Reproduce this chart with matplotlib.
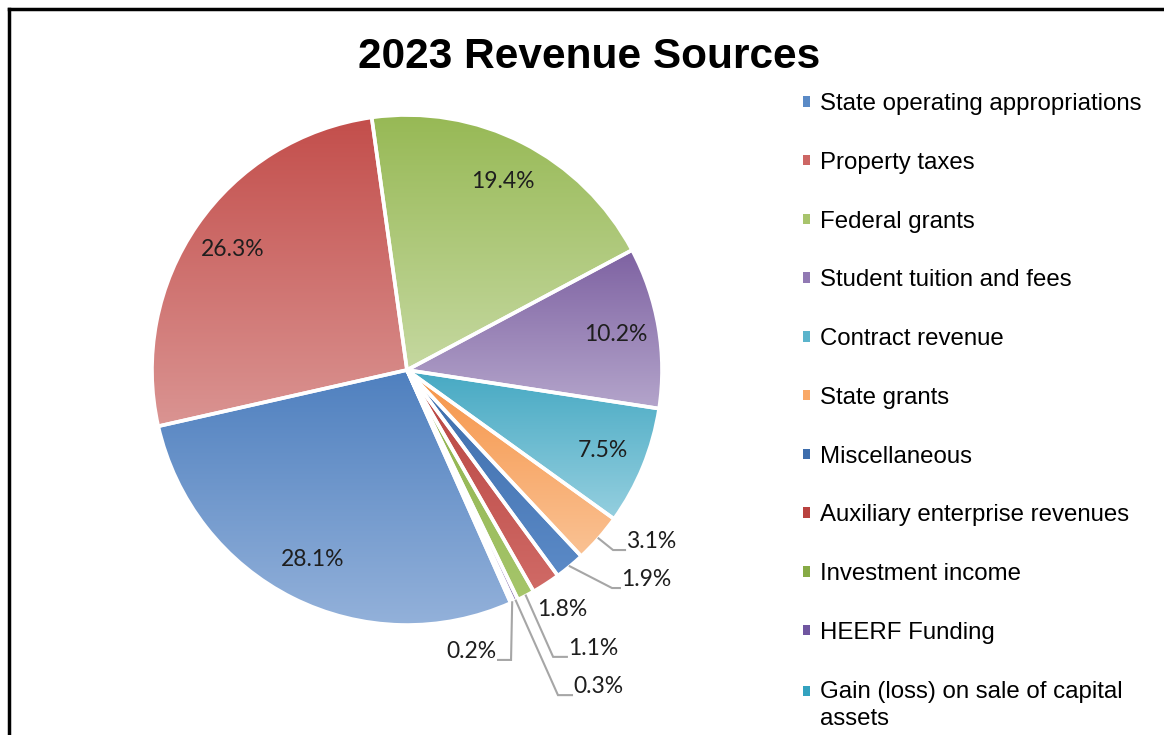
# 2023 revenue sources pie

import numpy as np
import matplotlib.pyplot as plt
from matplotlib.patches import Patch
from matplotlib.colors import to_rgb

# data
sources = ["State operating appropriations", "Property taxes", "Federal grants",
           "Student tuition and fees", "Contract revenue", "State grants",
           "Miscellaneous", "Auxiliary enterprise revenues", "Investment income",
           "HEERF Funding", "Gain (loss) on sale of capital\nassets"]
shares = [28.1, 26.3, 19.4, 10.2, 7.5, 3.1, 1.9, 1.8, 1.1, 0.3, 0.2]

# gradient colours per slice (top, bottom)
top_cols = ["#4F80BF", "#C34E4B", "#97B955", "#7E62A2", "#46A9C3", "#F69447",
            "#3C6CAA", "#B7433F", "#8CAF48", "#72569A", "#3A9CB6"]
bot_cols = ["#93B1DA", "#DA9492", "#C5D8A0", "#B4A5CB", "#95CFDF", "#FAC294",
            "#5B8AC7", "#D06A66", "#A6C66B", "#9A86BB", "#64B6CC"]
legend_cols = ["#5A8AC6", "#CD6664", "#A8C46C", "#9179B3", "#5BB4CC", "#F9A866",
               "#3D6DAC", "#B9423F", "#86AA45", "#7056A0", "#33A2BF"]

# label layout for small slices: (elbow, end) in pie radius units
small_labels = {
    5: ((0.808, -0.706), (0.855, -0.706), "left"),
    6: ((0.804, -0.855), (0.835, -0.855), "left"),
    8: ((0.573, -1.125), (0.627, -1.125), "left"),
    9: ((0.592, -1.275), (0.647, -1.275), "left"),
    10: ((0.408, -1.137), (0.357, -1.137), "right"),
}

W, H = 1164, 735
fig = plt.figure(figsize=(W / 100, H / 100), dpi=100)
fig.patch.set_facecolor("white")

cx, cy, r = 407, 370, 255
ax = fig.add_axes([(cx - r) / W, (H - cy - r) / H, 2 * r / W, 2 * r / H])

wedges, _ = ax.pie(shares, startangle=-66, counterclock=False,
                   wedgeprops=dict(edgecolor="white", linewidth=2.6))

# gradient fill clipped to each wedge (dark at top, light at bottom)
for i, w in enumerate(wedges):
    ext = w.get_path().get_extents()
    c0 = np.array(to_rgb(top_cols[i]))
    c1 = np.array(to_rgb(bot_cols[i]))
    t = np.linspace(0, 1, 256)[:, None]
    grad = (c0 * (1 - t) + c1 * t)[:, None, :]
    im = ax.imshow(grad, extent=[ext.x0, ext.x1, ext.y0, ext.y1], origin="upper",
                   aspect="auto", interpolation="bilinear", zorder=1)
    im.set_clip_path(w)
    w.set_facecolor("none")
    w.set_zorder(2)

lbl_font = dict(family="Lato", fontsize=16.5, color="#1E1E1E")
for i, w in enumerate(wedges):
    mid = np.deg2rad((w.theta1 + w.theta2) / 2)
    txt = f"{shares[i]:.1f}%"
    if i < 5:
        ax.text(0.83 * np.cos(mid), 0.83 * np.sin(mid), txt,
                ha="center", va="center", **lbl_font)
    elif i in small_labels:
        (ex, ey), (tx, ty), ha = small_labels[i]
        sx, sy = np.cos(mid), np.sin(mid)
        ax.plot([sx, ex, tx], [sy, ey, ty], color="#A6A6A6", lw=1.5,
                clip_on=False, zorder=3, solid_joinstyle="miter")
        ax.text(tx + (0.005 if ha == "left" else -0.005), ty - 0.008, txt,
                ha=ha, va="bottom", **lbl_font)
    else:
        ax.text(1.12 * np.cos(mid), 1.12 * np.sin(mid), txt,
                ha="center", va="center", **lbl_font)

ax.set_aspect("equal")
ax.set_xlim(-1, 1)
ax.set_ylim(-1, 1)
ax.axis("off")

fig.text(589 / W, 1 - 57 / H, "2023 Revenue Sources", ha="center", va="center",
         family="Liberation Sans", fontweight="bold", fontsize=30.5)

handles = [Patch(facecolor=c, edgecolor="none") for c in legend_cols]
leg = fig.legend(handles, sources, loc="upper left",
                 bbox_to_anchor=(803 / W, 1 - 93 / H),
                 prop=dict(family="Liberation Sans", size=17.3),
                 frameon=False, handlelength=0.3, handleheight=0.3,
                 handletextpad=0.4, labelspacing=1.53, borderpad=0, borderaxespad=0)
leg.get_texts()[-1].set_linespacing(1.3)
# two-line entry: marker sits beside the first line
last = leg.legend_handles[-1]
last.set_y(last.get_y() + 10)

# chart border (left and top visible)
fig.add_artist(plt.Line2D([8.5 / W, 8.5 / W], [0, 1 - 8.5 / H], color="black",
                          lw=2.5, transform=fig.transFigure))
fig.add_artist(plt.Line2D([8.5 / W, 1], [1 - 8.5 / H, 1 - 8.5 / H], color="black",
                          lw=2.5, transform=fig.transFigure))

fig.savefig("out.png", dpi=100)
